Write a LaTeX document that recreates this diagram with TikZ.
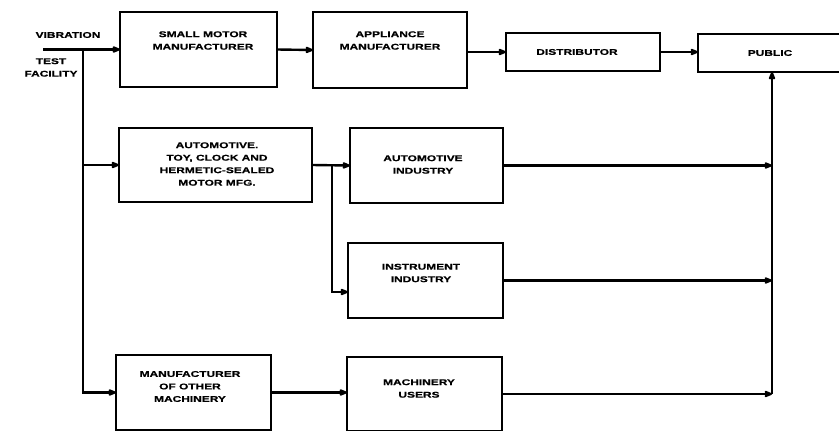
\documentclass[tikz,border=0pt]{standalone}
\usepackage{fontspec}
\usetikzlibrary{arrows.meta}
\newfontfamily\blocklbl{Liberation Sans Bold}[FakeStretch=1.42,FakeBold=0.6]
\begin{document}
\begin{tikzpicture}[x=1pt,y=-1pt,
  box/.style={draw, line width=2.6pt, inner sep=0pt, outer sep=0pt},
  lbl/.style={font=\blocklbl\fontsize{8.4}{12.5}\selectfont, align=center, inner sep=0pt},
  flow/.style={line width=2.4pt, -{Stealth[length=10pt,width=8pt,inset=2pt,round]}}]
\useasboundingbox (0,0) rectangle (839,431);
\fill[white] (0,0) rectangle (839,431);
\clip (0,0) rectangle (839,431);

% blocks
\node[box, minimum width=157pt, minimum height=75pt] (sm) at (198.5,49.5) {};
\node[box, minimum width=154pt, minimum height=76pt] (ap) at (390,50) {};
\node[box, minimum width=154pt, minimum height=38pt] (di) at (583,52) {};
\node[box, minimum width=146pt, minimum height=38pt] (pu) at (771,53) {};
\node[box, minimum width=193pt, minimum height=74pt] (am) at (215.5,165) {};
\node[box, minimum width=153pt, minimum height=75pt] (ai) at (426.5,165.5) {};
\node[box, minimum width=155pt, minimum height=75pt] (ii) at (425.5,280.5) {};
\node[box, minimum width=155pt, minimum height=75pt] (mo) at (193.5,392.5) {};
\node[box, minimum width=155pt, minimum height=74pt] (mu) at (424.5,394) {};

% labels
\node[lbl] (lv) at (68,35) {VIBRATION};
\node[lbl] (lt) at (51,67.5) {TEST\\FACILITY};
\node[lbl] (lsm) at (203,40.5) {SMALL MOTOR\\MANUFACTURER};
\node[lbl] (lap) at (390,40.5) {APPLIANCE\\MANUFACTURER};
\node[lbl] (ldi) at (577,52) {DISTRIBUTOR};
\node[lbl] (lpu) at (770,53) {PUBLIC};
\node[lbl] (lam) at (217,164) {AUTOMOTIVE.\\TOY, CLOCK AND\\HERMETIC-SEALED\\MOTOR MFG.};
\node[lbl] (lai) at (423,164.5) {AUTOMOTIVE\\INDUSTRY};
\node[lbl] (lii) at (421,273) {INSTRUMENT\\INDUSTRY};
\node[lbl] (lmo) at (190,386.5) {MANUFACTURER\\OF OTHER\\MACHINERY};
\node[lbl] (lmu) at (419,388.5) {MACHINERY\\USERS};

% junction points
\coordinate (src) at (43,49.5);
\coordinate (trunk) at (83,49.5);
\coordinate (fork) at (332,165);
\coordinate (ik) at (348,292);
\coordinate (bus) at (772,0);

% source line and left trunk
\draw[flow] (src) -- (sm.west);
\draw[flow] (trunk) |- (am.west);
\draw[flow] (trunk) |- (mo.west);

% top chain
\draw[flow] (sm.east) -- (ap.west);
\draw[flow] (ap.east |- di.west) -- (di.west);
\draw[flow] (di.east) -- (pu.west |- di.east);

% middle branch
\draw[flow] (am.east) -- (ai.west);
\draw[flow] (fork) |- (ik);
\draw[flow] (mo.east) -- (mu.west |- mo.east);

% collector bus to the public
\draw[flow] (ai.east) -- (ai.east -| bus);
\draw[flow] (ii.east) -- (ii.east -| bus);
\draw[flow] (mu.east) -- (mu.east -| bus);
\draw[flow] (mu.east -| bus) -- (pu.south -| bus);
\end{tikzpicture}
\end{document}
